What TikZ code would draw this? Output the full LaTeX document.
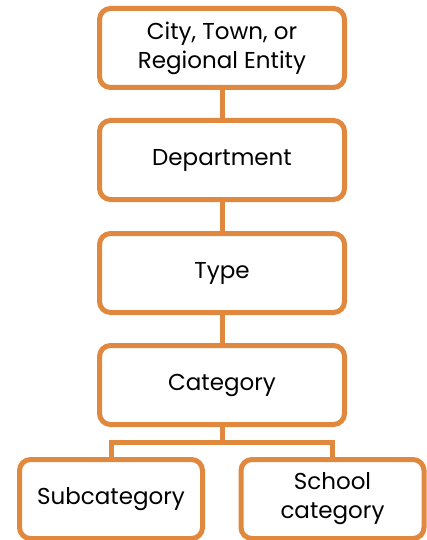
\documentclass[tikz,border=0pt]{standalone}
\usepackage{fontspec}
\setmainfont{Poppins}
\definecolor{boxorange}{RGB}{224,136,62}
\begin{document}
\begin{tikzpicture}[x=1pt,y=1pt,
  box/.style={draw=boxorange, line width=5pt, rounded corners=11pt, fill=white,
    minimum width=245pt, minimum height=79pt, inner sep=0pt, align=center,
    font=\fontsize{23}{29}\selectfont},
  smallbox/.style={box, minimum width=183pt},
  link/.style={draw=boxorange, line width=5pt}]
\useasboundingbox (0,0) rectangle (427,-540);
\node[box] (top) at (222,-48) {City, Town, or\\Regional Entity};
\node[box] (dept) at (222,-160) {\raisebox{-2pt}{Department}};
\node[box] (type) at (222,-273) {\raisebox{-2pt}{Type}};
\node[box] (cat) at (222,-385) {\raisebox{-2pt}{Category}};
\node[smallbox] (sub) at (111,-499) {\raisebox{-2pt}{Subcategory}};
\node[smallbox] (sch) at (332.5,-499) {School\\category};
\coordinate (j) at (222,-442);
\draw[link] (top.south) -- (dept.north);
\draw[link] (dept.south) -- (type.north);
\draw[link] (type.south) -- (cat.north);
\draw[link] (cat.south) -- (j);
\draw[link] (j) -| (sub.north);
\draw[link] (j) -| (sch.north);
\end{tikzpicture}
\end{document}
